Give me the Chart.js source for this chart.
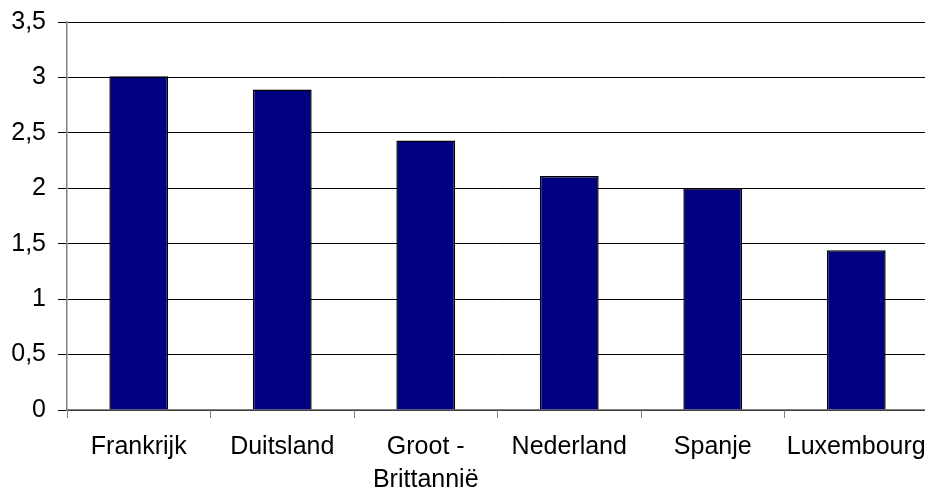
<!DOCTYPE html>
<html>
<head>
<meta charset="utf-8">
<script src="https://cdn.jsdelivr.net/npm/chart.js@4/dist/chart.umd.min.js"></script>
<style>
html,body{margin:0;padding:0;background:#fff;overflow:hidden;}
#wrap{width:928px;height:493px;}
</style>
</head>
<body>
<div id="wrap"><canvas id="c" width="928" height="493"></canvas></div>
<script>
const categories = ["Frankrijk", "Duitsland", ["Groot -", "Brittannië"], "Nederland", "Spanje", "Luxembourg"];
const values = [3.01, 2.89, 2.43, 2.11, 2.0, 1.44];
const yTicks = [0, 0.5, 1, 1.5, 2, 2.5, 3, 3.5];

Chart.defaults.font.family = "'Liberation Sans', Arial, sans-serif";
Chart.defaults.font.size = 25;
Chart.defaults.color = "#000";

new Chart(document.getElementById('c'), {
  type: 'bar',
  data: {
    labels: categories,
    datasets: [{
      data: values,
      backgroundColor: '#000080',
      borderColor: '#000000',
      borderWidth: 1.5,
      barPercentage: 0.41,
      categoryPercentage: 1.0
    }]
  },
  options: {
    responsive: false,
    animation: false,
    devicePixelRatio: 1,
    layout: { padding: { top: 22, right: 0, left: 0, bottom: 0 } },
    plugins: { legend: { display: false }, tooltip: { enabled: false } },
    scales: {
      y: {
        min: 0, max: 3.5,
        afterBuildTicks: (s) => { s.ticks = yTicks.map(v => ({ value: v })); },
        afterFit: (s) => { s.width = 67; s.paddingTop = 0; s.paddingBottom = 0; },
        ticks: {
          padding: 12,
          callback: (v) => String(v).replace('.', ','),
          font: { size: 25 }
        },
        grid: { color: '#000', lineWidth: 1, tickLength: 9, tickColor: '#000' },
        border: { color: '#808080', width: 1.5 }
      },
      x: {
        afterFit: (s) => { s.height = 83; s.paddingLeft = 0; s.paddingRight = 0; },
        ticks: { padding: 13, font: { size: 25, lineHeight: 1.32 }, maxRotation: 0, autoSkip: false },
        grid: { drawOnChartArea: false, drawTicks: true, tickLength: 8, color: '#808080', offset: true },
        border: { color: '#808080', width: 1.5 }
      }
    }
  }
});
</script>
</body>
</html>
